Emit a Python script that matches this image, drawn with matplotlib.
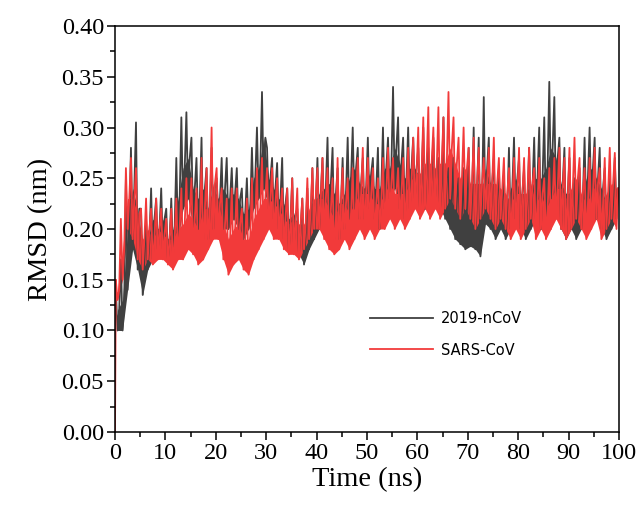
import numpy as np
import matplotlib.pyplot as plt
from matplotlib.ticker import MultipleLocator, FormatStrFormatter

# RMSD readings, per ns (0..99): upper edge, lower edge, middle of band
ncov_hi = [0.14, 0.17, 0.25, 0.28, 0.305, 0.22, 0.21, 0.24, 0.23, 0.24,
           0.22, 0.23, 0.27, 0.31, 0.315, 0.29, 0.27, 0.29, 0.26, 0.28,
           0.25, 0.27, 0.27, 0.26, 0.26, 0.24, 0.25, 0.28, 0.30, 0.335,
           0.28, 0.27, 0.265, 0.27, 0.24, 0.25, 0.22, 0.23, 0.24, 0.26,
           0.27, 0.27, 0.29, 0.28, 0.26, 0.27, 0.29, 0.30, 0.28, 0.27,
           0.29, 0.27, 0.28, 0.30, 0.29, 0.34, 0.31, 0.29, 0.30, 0.29,
           0.28, 0.30, 0.28, 0.29, 0.27, 0.31, 0.26, 0.27, 0.25, 0.26,
           0.28, 0.30, 0.29, 0.33, 0.29, 0.27, 0.26, 0.25, 0.28, 0.29,
           0.27, 0.26, 0.28, 0.29, 0.30, 0.31, 0.345, 0.33, 0.29, 0.28,
           0.27, 0.25, 0.26, 0.29, 0.30, 0.29, 0.28, 0.26, 0.25, 0.27]
ncov_lo = [0.10, 0.10, 0.14, 0.18, 0.16, 0.135, 0.16, 0.17, 0.18, 0.18,
           0.17, 0.175, 0.19, 0.22, 0.23, 0.20, 0.20, 0.19, 0.19, 0.20,
           0.21, 0.20, 0.20, 0.21, 0.20, 0.19, 0.20, 0.22, 0.23, 0.24,
           0.22, 0.21, 0.20, 0.19, 0.18, 0.185, 0.175, 0.165, 0.18, 0.19,
           0.20, 0.21, 0.20, 0.19, 0.19, 0.20, 0.21, 0.22, 0.21, 0.21,
           0.22, 0.21, 0.20, 0.22, 0.23, 0.24, 0.22, 0.21, 0.22, 0.23,
           0.22, 0.22, 0.23, 0.23, 0.22, 0.21, 0.20, 0.19, 0.185, 0.18,
           0.183, 0.18, 0.173, 0.205, 0.20, 0.19, 0.20, 0.19, 0.20, 0.21,
           0.20, 0.19, 0.20, 0.21, 0.20, 0.21, 0.23, 0.22, 0.20, 0.19,
           0.20, 0.19, 0.20, 0.21, 0.22, 0.21, 0.20, 0.19, 0.20, 0.21]
ncov_mid = [0.12, 0.13, 0.20, 0.24, 0.22, 0.17, 0.19, 0.21, 0.20, 0.21,
            0.19, 0.20, 0.23, 0.26, 0.27, 0.24, 0.23, 0.24, 0.22, 0.24,
            0.23, 0.24, 0.23, 0.235, 0.23, 0.215, 0.22, 0.25, 0.26, 0.29,
            0.25, 0.24, 0.23, 0.225, 0.21, 0.215, 0.20, 0.195, 0.21, 0.225,
            0.235, 0.24, 0.245, 0.235, 0.225, 0.235, 0.25, 0.26, 0.245, 0.24,
            0.255, 0.24, 0.24, 0.26, 0.26, 0.28, 0.265, 0.25, 0.26, 0.26,
            0.25, 0.26, 0.255, 0.26, 0.245, 0.25, 0.23, 0.23, 0.215, 0.22,
            0.23, 0.24, 0.23, 0.26, 0.245, 0.23, 0.23, 0.22, 0.24, 0.25,
            0.235, 0.225, 0.24, 0.25, 0.25, 0.26, 0.28, 0.27, 0.245, 0.235,
            0.235, 0.22, 0.23, 0.25, 0.26, 0.25, 0.24, 0.225, 0.225, 0.24]
sars_hi = [0.15, 0.21, 0.26, 0.27, 0.26, 0.22, 0.23, 0.22, 0.23, 0.22,
           0.21, 0.22, 0.23, 0.24, 0.25, 0.25, 0.24, 0.27, 0.26, 0.30,
           0.26, 0.24, 0.23, 0.24, 0.24, 0.22, 0.23, 0.25, 0.26, 0.27,
           0.26, 0.26, 0.25, 0.24, 0.24, 0.25, 0.24, 0.23, 0.25, 0.26,
           0.26, 0.27, 0.26, 0.25, 0.27, 0.26, 0.25, 0.26, 0.27, 0.28,
           0.27, 0.26, 0.25, 0.27, 0.28, 0.27, 0.26, 0.27, 0.28, 0.29,
           0.30, 0.31, 0.32, 0.30, 0.32, 0.31, 0.335, 0.31, 0.29, 0.30,
           0.28, 0.29, 0.28, 0.27, 0.28, 0.29, 0.27, 0.27, 0.26, 0.27,
           0.28, 0.27, 0.28, 0.26, 0.27, 0.25, 0.26, 0.27, 0.28, 0.27,
           0.28, 0.29, 0.27, 0.26, 0.27, 0.28, 0.26, 0.27, 0.28, 0.275]
sars_lo = [0.13, 0.15, 0.20, 0.19, 0.17, 0.16, 0.17, 0.165, 0.17, 0.17,
           0.165, 0.16, 0.17, 0.17, 0.18, 0.175, 0.165, 0.17, 0.18, 0.19,
           0.19, 0.17, 0.155, 0.165, 0.17, 0.16, 0.155, 0.17, 0.18, 0.19,
           0.20, 0.19, 0.19, 0.18, 0.175, 0.175, 0.17, 0.18, 0.19, 0.20,
           0.20, 0.19, 0.18, 0.175, 0.18, 0.19, 0.18, 0.19, 0.20, 0.19,
           0.20, 0.19, 0.20, 0.20, 0.21, 0.20, 0.21, 0.20, 0.21, 0.22,
           0.21, 0.22, 0.21, 0.22, 0.21, 0.22, 0.23, 0.22, 0.21, 0.22,
           0.21, 0.20, 0.21, 0.22, 0.21, 0.20, 0.21, 0.20, 0.19, 0.20,
           0.19, 0.20, 0.21, 0.19, 0.20, 0.19, 0.20, 0.21, 0.20, 0.19,
           0.20, 0.21, 0.20, 0.19, 0.20, 0.21, 0.19, 0.20, 0.21, 0.20]
sars_mid = [0.14, 0.18, 0.23, 0.23, 0.215, 0.19, 0.20, 0.19, 0.20, 0.195,
            0.19, 0.19, 0.20, 0.205, 0.215, 0.21, 0.20, 0.22, 0.22, 0.245,
            0.225, 0.205, 0.19, 0.20, 0.205, 0.19, 0.19, 0.21, 0.22, 0.23,
            0.23, 0.225, 0.22, 0.21, 0.205, 0.21, 0.205, 0.205, 0.22, 0.23,
            0.23, 0.23, 0.22, 0.21, 0.225, 0.225, 0.215, 0.225, 0.235, 0.235,
            0.235, 0.225, 0.225, 0.235, 0.245, 0.235, 0.235, 0.235, 0.245, 0.255,
            0.255, 0.265, 0.265, 0.26, 0.265, 0.265, 0.28, 0.265, 0.25, 0.26,
            0.245, 0.245, 0.245, 0.245, 0.245, 0.245, 0.24, 0.235, 0.225, 0.235,
            0.235, 0.235, 0.245, 0.225, 0.235, 0.22, 0.23, 0.24, 0.24, 0.23,
            0.24, 0.25, 0.235, 0.225, 0.235, 0.245, 0.225, 0.235, 0.245, 0.24]
sars_start = 0.0
labels = ['2019-nCoV', 'SARS-CoV']
colors = ['#404040', '#f23a3a']


def trace(hi, lo, mid):
    # three readings per ns: upper edge, lower edge, then middle of the band
    t = np.arange(len(hi))
    x = np.column_stack([t + 1 / 6, t + 3 / 6, t + 5 / 6]).ravel()
    y = np.column_stack([hi, lo, mid]).ravel()
    return x, y


plt.rcParams['font.family'] = ['Liberation Serif', 'DejaVu Serif']

fig = plt.figure(figsize=(6.41, 5.12), dpi=100)
ax = fig.add_axes([0.1794, 0.1563, 0.7863, 0.7929])

t_ns = np.arange(len(ncov_hi)) + 0.5
x1, y1 = trace(ncov_hi, ncov_lo, ncov_mid)
x2, y2 = trace(sars_hi, sars_lo, sars_mid)
x2 = np.concatenate([[0.0], x2])
y2 = np.concatenate([[sars_start], y2])

# the dense trajectories read as a solid core with spikes on the edges
ax.fill_between(t_ns, ncov_lo, ncov_mid, color=colors[0], lw=0)
ax.plot(x1, y1, color=colors[0], lw=1.3, label=labels[0])
ax.fill_between(t_ns, sars_lo, sars_mid, color=colors[1], lw=0)
ax.plot(x2, y2, color=colors[1], lw=1.3, label=labels[1])

ax.set_xlim(0, 100)
ax.set_ylim(0, 0.40)
ax.xaxis.set_major_locator(MultipleLocator(10))
ax.xaxis.set_minor_locator(MultipleLocator(5))
ax.yaxis.set_major_locator(MultipleLocator(0.05))
ax.yaxis.set_minor_locator(MultipleLocator(0.025))
ax.yaxis.set_major_formatter(FormatStrFormatter('%.2f'))
ax.tick_params(which='both', direction='out', top=False, right=False,
               width=1.1, labelsize=17.5, pad=2)
ax.tick_params(which='major', length=6)
ax.tick_params(which='minor', length=3.5)
for s in ax.spines.values():
    s.set_linewidth(1.1)

ax.set_xlabel('Time (ns)', fontsize=20.5, labelpad=2)
ax.set_ylabel('RMSD (nm)', fontsize=20.5, labelpad=6)

leg = ax.legend(loc='center left', bbox_to_anchor=(0.506, 0.241),
                frameon=False, borderpad=0, borderaxespad=0,
                handlelength=4.3, handletextpad=0.55, labelspacing=1.15,
                prop={'family': 'DejaVu Sans', 'size': 10.5})
for h in leg.get_lines():
    h.set_linewidth(1.3)

fig.savefig('out.png', dpi=100)
